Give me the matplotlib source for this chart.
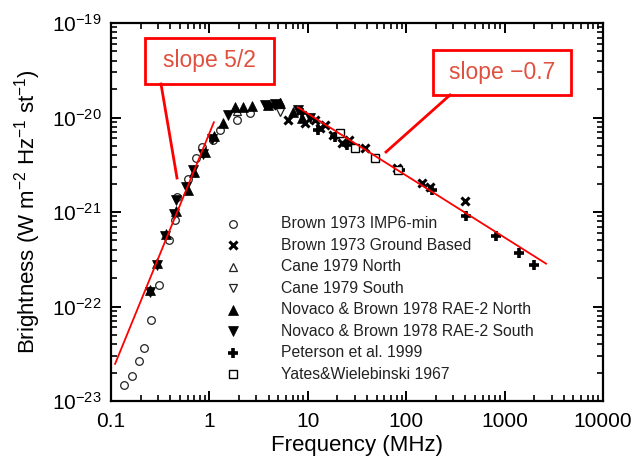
import matplotlib
matplotlib.use("Agg")
import matplotlib.pyplot as plt
from matplotlib.ticker import LogLocator, FixedLocator, FixedFormatter, NullFormatter
from matplotlib.patches import Rectangle
from matplotlib.lines import Line2D

plt.rcParams['font.family'] = ['Liberation Sans', 'DejaVu Sans']
plt.rcParams['mathtext.fontset'] = 'custom'
plt.rcParams['mathtext.rm'] = 'Liberation Sans'
plt.rcParams['mathtext.it'] = 'Liberation Sans:italic'
plt.rcParams['mathtext.bf'] = 'Liberation Sans:bold'

# ---------------- data ----------------
brown_imp6_f = [0.136, 0.162, 0.193, 0.218, 0.255, 0.308, 0.388, 0.447, 0.469, 0.603,
                0.731, 0.841, 1.09, 1.28, 1.91, 2.59]
brown_imp6_b = [1.48e-23, 1.84e-23, 2.65e-23, 3.68e-23, 7.2e-23, 1.70e-22, 5.1e-22, 8.3e-22,
                1.43e-21, 2.21e-21, 3.70e-21, 4.83e-21, 5.74e-21, 7.33e-21, 9.35e-21, 1.11e-20]

brown_gb_f = [4.33, 6.29, 9.37, 11.8, 13.3, 15.0, 18.0, 22.3, 26.5, 38.1, 80.7, 145, 175, 396]
brown_gb_b = [1.35e-20, 9.5e-21, 8.7e-21, 9.3e-21, 7.8e-21, 8.3e-21, 6.5e-21, 5.4e-21,
              5.75e-21, 4.7e-21, 2.95e-21, 2.04e-21, 1.86e-21, 1.32e-21]

cane_n_f = [1.9, 5.2]
cane_n_b = [1.17e-20, 1.45e-20]

cane_s_f = [5.2]
cane_s_b = [1.15e-20]

novaco_n_f = [0.249, 0.293, 0.362, 0.458, 0.606, 0.70, 0.90, 1.11, 1.37, 1.82, 2.19, 2.70,
              3.9, 5.2, 7.0, 8.7]
novaco_n_b = [1.48e-22, 2.88e-22, 5.9e-22, 1.02e-21, 1.70e-21, 2.63e-21, 4.27e-21, 6.3e-21,
              8.7e-21, 1.29e-20, 1.29e-20, 1.32e-20, 1.35e-20, 1.41e-20, 1.15e-20, 1.0e-20]

novaco_s_f = [0.249, 0.293, 0.354, 0.437, 0.458, 0.58, 0.68, 0.86, 1.06, 1.55, 3.66, 4.6,
              7.9, 10.5]
novaco_s_b = [1.41e-22, 2.75e-22, 5.6e-22, 9.5e-22, 1.35e-21, 1.86e-21, 2.75e-21, 4.07e-21,
              5.9e-21, 1.05e-20, 1.35e-20, 1.38e-20, 1.20e-20, 9.8e-21]

peterson_f = [8.73, 12.7, 18.9, 25.0, 86.5, 183, 405, 818, 1400, 1990]
peterson_b = [1.11e-20, 7.3e-21, 6.2e-21, 5.1e-21, 2.75e-21, 1.70e-21, 9.1e-22, 5.6e-22,
              3.7e-22, 2.75e-22]

yates_f = [21.2, 30.2, 48.2, 82.6]
yates_b = [6.8e-21, 4.7e-21, 3.7e-21, 2.75e-21]

fit1_f = [0.11, 1.11]
fit1_b = [2.47e-23, 8.9e-21]
fit2_f = [7.9, 2640]
fit2_b = [1.285e-20, 2.84e-22]

x_ticks = [0.1, 1, 10, 100, 1000, 10000]
x_ticklabels = ['0.1', '1', '10', '100', '1000', '10000']
y_ticks = [1e-23, 1e-22, 1e-21, 1e-20, 1e-19]
y_ticklabels = [r'$\mathregular{10^{-23}}$', r'$\mathregular{10^{-22}}$',
                r'$\mathregular{10^{-21}}$', r'$\mathregular{10^{-20}}$',
                r'$\mathregular{10^{-19}}$']

labels = ['Brown 1973 IMP6-min', 'Brown 1973 Ground Based', 'Cane 1979 North',
          'Cane 1979 South', 'Novaco & Brown 1978 RAE-2 North',
          'Novaco & Brown 1978 RAE-2 South', 'Peterson et al. 1999',
          'Yates&Wielebinski 1967']

# ---------------- figure ----------------
W, H = 635, 459
fig = plt.figure(figsize=(W / 100, H / 100), dpi=100)
AX_L, AX_R, AX_T, AX_B = 111, 603, 23, 401
ax = fig.add_axes([AX_L / W, 1 - AX_B / H, (AX_R - AX_L) / W, (AX_B - AX_T) / H])
ax.set_xscale('log')
ax.set_yscale('log')
ax.set_xlim(0.1, 10000)
ax.set_ylim(1e-23, 1e-19)

def px(x, y):
    return ((x - AX_L) / (AX_R - AX_L), 1 - (y - AX_T) / (AX_B - AX_T))

ms = 5.5
styles = [
    dict(marker='o', mfc='white', mec='#222222', mew=0.9, ms=ms),
    dict(marker='x', mfc='black', mec='black', mew=2.2, ms=ms + 0.3),
    dict(marker='^', mfc='white', mec='#222222', mew=0.9, ms=ms + 0.5),
    dict(marker='v', mfc='white', mec='#222222', mew=0.9, ms=ms + 0.5),
    dict(marker='^', mfc='black', mec='black', mew=0.5, ms=ms + 1.3),
    dict(marker='v', mfc='black', mec='black', mew=0.5, ms=ms + 1.3),
    dict(marker='+', mfc='black', mec='black', mew=2.6, ms=ms + 1.2),
    dict(marker='s', mfc='white', mec='black', mew=1.0, ms=ms),
]
series = [(brown_imp6_f, brown_imp6_b), (brown_gb_f, brown_gb_b), (cane_n_f, cane_n_b),
          (cane_s_f, cane_s_b), (novaco_n_f, novaco_n_b), (novaco_s_f, novaco_s_b),
          (peterson_f, peterson_b), (yates_f, yates_b)]

for (f, b), st in zip(series, styles):
    ax.plot(f, b, linestyle='none', zorder=3, **st)

ax.plot(fit1_f, fit1_b, color='#ff0000', lw=1.3, zorder=4)
ax.plot(fit2_f, fit2_b, color='#ff0000', lw=1.3, zorder=4)

# legend (manual, frameless)
for i, (lab, st) in enumerate(zip(labels, styles)):
    yy = 224 + i * 21.43
    mx, my = px(233, yy)
    tx, _ = px(281, yy)
    ax.plot([mx], [my], transform=ax.transAxes, linestyle='none', clip_on=False, **st)
    ax.text(tx, my, lab, transform=ax.transAxes, fontsize=11.3, color='#222222',
            va='center', ha='left')

# annotation boxes
def box(x0, y0, x1, y1, text, pointer):
    a = px(x0, y1)
    b = px(x1, y0)
    ax.add_patch(Rectangle(a, b[0] - a[0], b[1] - a[1], transform=ax.transAxes,
                           fill=True, facecolor='white', edgecolor='#ff0000', lw=2.0,
                           zorder=5, clip_on=False))
    c = px((x0 + x1) / 2, (y0 + y1) / 2)
    ax.text(c[0], c[1], text, transform=ax.transAxes, ha='center', va='center',
            fontsize=16.5, color='#e0503f', zorder=6)
    p0 = px(*pointer[0])
    p1 = px(*pointer[1])
    ax.add_line(Line2D([p0[0], p1[0]], [p0[1], p1[1]], transform=ax.transAxes,
                       color='#ff0000', lw=2.0, zorder=5))

box(145, 38, 274, 84, 'slope 5/2', [(161, 84), (177, 178)])
box(433, 50, 571, 95, 'slope \u22120.7', [(450, 95), (386, 152)])

# axes styling
ax.xaxis.set_major_locator(FixedLocator(x_ticks))
ax.xaxis.set_major_formatter(FixedFormatter(x_ticklabels))
ax.yaxis.set_major_locator(FixedLocator(y_ticks))
ax.yaxis.set_major_formatter(FixedFormatter(y_ticklabels))
ax.xaxis.set_minor_locator(LogLocator(base=10, subs=range(2, 10), numticks=20))
ax.yaxis.set_minor_locator(LogLocator(base=10, subs=range(2, 10), numticks=20))
ax.xaxis.set_minor_formatter(NullFormatter())
ax.yaxis.set_minor_formatter(NullFormatter())
ax.tick_params(which='both', direction='in', top=True, right=True, color='black')
ax.tick_params(which='major', length=7, width=1.4, labelsize=15, pad=8)
ax.tick_params(which='minor', length=4, width=1.2)
ax.tick_params(axis='y', which='major', pad=7)
for s in ax.spines.values():
    s.set_linewidth(1.6)

ax.set_xlabel('Frequency (MHz)', fontsize=16, labelpad=3)
ax.set_ylabel(r'Brightness (W m$^{\mathregular{-2}}$ Hz$^{\mathregular{-1}}$ st$^{\mathregular{-1}}$)',
              fontsize=16, labelpad=6)

fig.savefig('out.png', dpi=100)
